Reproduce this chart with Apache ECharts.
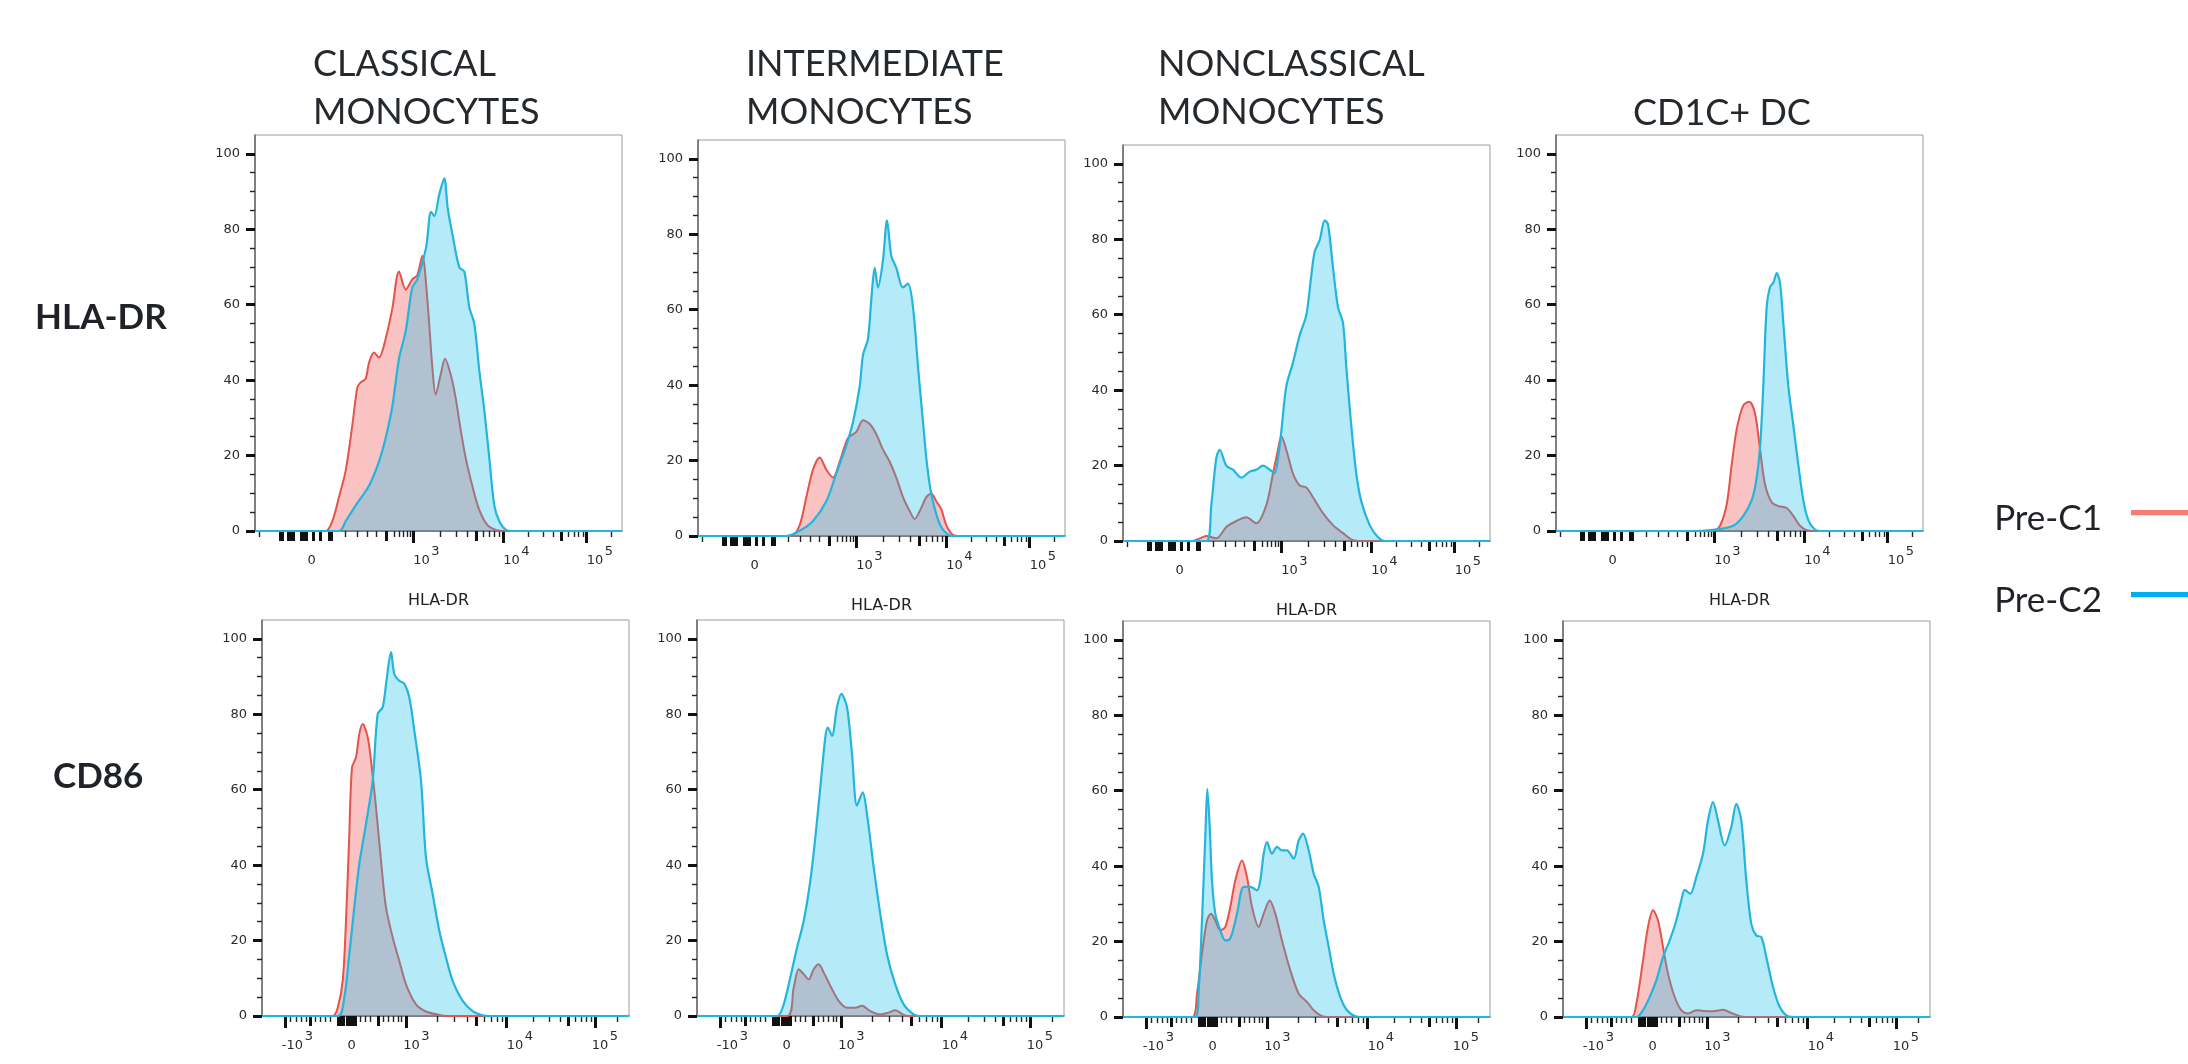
<!DOCTYPE html>
<html>
<head>
<meta charset="utf-8">
<script src="https://cdn.jsdelivr.net/npm/echarts@6/dist/echarts.min.js"></script>
<style>
  html, body { margin: 0; padding: 0; background: #ffffff; }
  #chart { width: 2188px; height: 1064px; }
</style>
</head>
<body>
<div id="chart"></div>
<script>
// ------------------------------------------------------------------
// DATA
// x values are on the logicle display scale of the cytometer axis
// (display channels 0 - 367); y values are % of mode.
// ------------------------------------------------------------------
const columnTitles = ['CLASSICAL\nMONOCYTES', 'INTERMEDIATE\nMONOCYTES', 'NONCLASSICAL\nMONOCYTES', 'CD1C+ DC'];
const rowMarkers = ['HLA-DR', 'CD86'];
const seriesNames = ['Pre-C1', 'Pre-C2'];

const yTickValues = [0, 20, 40, 60, 80, 100];
const yMinorTickValues = [5, 10, 15, 25, 30, 35, 45, 50, 55, 65, 70, 75, 85, 90, 95];

// HLA-DR axis (top row); label values mark where each label starts
const hlaLabelValues = [52.6, 158.3, 248.3, 331.7];
const hlaLabelText = ['0', '10³', '10⁴', '10⁵'];
const hlaDecadeTicks = [158.3, 248.3, 331.7];            // 10^3, 10^4, 10^5
const hlaZeroTicks = [25, 27.5, 33, 35.5, 38, 46, 48.5, 51, 58, 65, 74, 76.5];
const hlaLowThinTicks = [4.5, 90, 102, 112, 121, 139, 144, 148.5, 152.5, 155.5, 356.7];
const hlaLowThickTicks = [131];

// CD86 axis (bottom row)
const cd86LabelValues = [19.7, 85.6, 141.3, 244.7, 329.7];
const cd86LabelText = ['-10³', '0', '10³', '10⁴', '10⁵'];
const cd86DecadeTicks = [144.7, 244.7, 333];             // 10^3, 10^4, 10^5
const cd86NegMajorTick = [23.7];                         // -10^3
const cd86ZeroTicks = [76, 78.5, 81, 85, 88, 90.5, 93];
const cd86LowThinTicks = [28, 34.7, 39.7, 44.7, 53, 58, 63, 68, 98, 103, 108, 121.3, 126.3, 131.3, 136.3, 139.7, 355];
const cd86LowThickTicks = [48, 116.3];

// ---- histograms: HLA-DR ----
const hlaClassicalPreC1 = [[0,0],[70.7,0],[77.3,2.6],[84,9],[90.7,16],[97.3,28],[102.3,38],[105.7,39.4],[110.7,40.4],[114,44.6],[119,47.3],[124,46],[130.7,51],[137.3,59],[144,68.8],[150.7,64],[157.3,66.7],[162.3,67.8],[167.3,73],[172.3,61.5],[177.3,43.6],[180.7,36.2],[185.7,41.5],[190,45.7],[195.7,41.5],[200.7,35.2],[205.7,26.8],[210.7,19.4],[217.3,12],[224,5.8],[232.3,1.6],[240.7,0.3],[250,0],[367,0]];
const hlaClassicalPreC2 = [[0,0],[84,0],[90.7,2.6],[100.7,6.8],[114,12],[124,18.4],[130.7,24.7],[137.3,33],[144,45.7],[150.7,53],[157.3,64.6],[162.3,66.7],[171,75],[176,84.6],[179.3,83.5],[184.3,89.3],[189.3,93.5],[192.7,85.6],[197.7,78.3],[204.3,69.9],[209.3,68.8],[214.3,59.3],[219.3,55],[224.3,42.5],[229.3,32],[234.3,19.4],[239.3,6.8],[244.3,2.6],[251,0.3],[258,0],[367,0]];

const hlaIntermediatePreC1 = [[0,0],[93.3,0],[101.7,2.9],[108.3,10.3],[115,17.6],[121.7,20.8],[128.3,17.6],[135,15.5],[141.7,19.7],[150,26],[158.3,27.6],[165,30.7],[171.7,29.7],[178.3,27],[185,22.9],[191.7,19.7],[198.3,15.5],[205,10.3],[211.7,6.6],[216.7,4.5],[221.7,6.6],[228.3,10.3],[233.3,11.3],[238.3,9.2],[243.3,7.1],[248.3,2.9],[255,0.3],[262,0],[367,0]];
const hlaIntermediatePreC2 = [[0,0],[88.3,0],[101.7,1.4],[115,4],[128.3,9.2],[138.3,16.6],[148.3,24],[155,30.2],[161.7,39.7],[165,48],[170,52.3],[173.3,62.7],[176.7,71.1],[180,65.9],[185,73.2],[189,83.7],[193.3,74.3],[198.3,71.1],[205,65.9],[210,66.9],[215,60.7],[220,44.9],[225,30.2],[229,19],[233,11.5],[237,7],[242,3],[248,0.8],[255,0],[367,0]];

const hlaNonclassicalPreC1 = [[0,0],[70,0],[76.7,0.7],[83.3,1.3],[93.3,0.7],[103.3,3.7],[113.3,5.3],[123.3,6.3],[133.3,4.7],[143.3,9.5],[150,17.9],[155,24.2],[158.3,27.8],[163.3,24.2],[170,17.9],[176.7,14.7],[183.3,14.2],[190,11.6],[200,7.4],[210,4.2],[220,2.1],[230,0.2],[238,0],[367,0]];
const hlaNonclassicalPreC2 = [[0,0],[83.3,0],[88.3,9.5],[93.3,22],[96.7,24.2],[103.3,20],[110,18.9],[118.3,16.8],[126.7,18.4],[133.3,18.9],[140,20],[146.7,18.9],[151.7,18],[155,22],[158.3,29],[163.3,41],[170,47.3],[176.7,54.6],[183.3,59.9],[188.3,70.4],[191.7,76.7],[196.7,79.8],[201.7,85],[205,84],[210,72.5],[215,62],[220,57.8],[223.3,46.2],[228.3,30.5],[233.3,17.9],[238.3,10.5],[246.7,4.2],[255,1],[261.7,0],[367,0]];

const hlaCd1cDcPreC1 = [[0,0],[157.3,0],[164,1.4],[170.7,7.1],[175.7,17.6],[180.7,27],[187.3,33.3],[193.3,34.3],[199,31.2],[204,21.8],[209,12.4],[215.7,7.6],[222.3,6.6],[230.7,6.1],[237.3,4],[244,1.4],[250.7,0.2],[258,0],[367,0]];
const hlaCd1cDcPreC2 = [[0,0],[140.7,0],[157.3,0.3],[177.3,1.4],[187.3,4],[195.7,8.2],[200,13],[204,22],[207.3,38.5],[210.7,59.5],[214,64.7],[217.3,65.8],[220.7,68.4],[224,65.8],[227.3,55.3],[232.3,38.5],[237.3,28.1],[242.3,17.6],[247.3,8.2],[252.3,2.9],[259,0.4],[265,0],[367,0]];

// ---- histograms: CD86 ----
const cd86ClassicalPreC1 = [[0,0],[70.7,0],[75.7,2.2],[80.7,9.3],[84,25.2],[87.3,48.2],[90,65.9],[94,68.6],[97.3,74.8],[100.7,77.4],[105.7,73.9],[109,67.7],[114,55.3],[119,41.2],[124,28.8],[130.7,20.8],[137.3,14.6],[144,8.4],[154,3.1],[164,1.2],[177.3,0.3],[185,0],[367,0]];
const cd86ClassicalPreC2 = [[0,0],[75.7,0],[82.3,4.9],[87.3,16.4],[92.3,28.8],[97.3,40.3],[104,50.9],[110.7,62.4],[115.7,80.1],[120.7,81.9],[124.7,89.4],[129,96.5],[132.3,90.7],[137.3,88.9],[142.3,88.1],[147.3,84.5],[152.3,75.7],[159,62.4],[164,42],[170.7,32.3],[177.3,22.6],[184,15.5],[190.7,9.3],[200.7,4],[210.7,1.3],[220.7,0.2],[228,0],[367,0]];

const cd86IntermediatePreC1 = [[0,0],[90,0],[96.7,7.5],[101.7,12.4],[106.7,11.1],[111.7,9.7],[116.7,12.4],[121.7,13.7],[126.7,11.5],[133.3,8],[141.7,4],[150,2.2],[158.3,2.2],[165,2.7],[173.3,1.3],[183.3,0.4],[191.7,0.9],[198.3,1.5],[206.7,0.3],[212,0],[367,0]];
const cd86IntermediatePreC2 = [[0,0],[80,0],[86.7,3.1],[93.3,10.2],[100,18.1],[106.7,25.2],[113.3,35.8],[118.3,47.3],[123.3,60.6],[128.3,73.9],[130.7,76.5],[135,74.3],[140,81.9],[144.3,85.4],[150,81.9],[155,69.5],[160,55.8],[165.7,59.3],[170,53.5],[176.7,39.4],[183.3,27],[190,16.4],[198.3,8.4],[206.7,3.1],[216.7,0.4],[222,0],[367,0]];

const cd86NonclassicalPreC1 = [[0,0],[69,0],[74,6.2],[79,16.8],[84,25.6],[88,27.4],[92.3,25.6],[97.3,23],[102.3,23.9],[107.3,29.2],[112.3,36.2],[119,41.5],[124,37.1],[129,29.2],[135.7,23.9],[140.7,27.4],[146.7,30.9],[152.3,27.4],[159,20.3],[167.3,12.4],[175.7,6.2],[184,4],[190.7,1.8],[199,0.2],[205,0],[367,0]];
const cd86NonclassicalPreC2 = [[0,0],[72.3,0],[75.7,7.1],[79,25.6],[82.3,47.7],[84.3,60.5],[86.7,50.4],[89,36.2],[92.3,27.4],[97.3,23],[102.3,20.3],[107.3,20.8],[114,27.4],[120.7,34.5],[127.3,34.5],[134,33.6],[137.3,36.2],[140.7,43.3],[144,46.4],[149,43.3],[154,45.1],[159,44.2],[164,44.2],[170.7,42],[175.7,46.8],[180,48.6],[185.7,44.2],[190.7,38],[195.7,34.5],[200.7,25.6],[205.7,18.6],[210.7,11.5],[217.3,5.3],[224,1.8],[232.3,0.2],[240,0],[367,0]];

const cd86Cd1cDcPreC1 = [[0,0],[68.3,0],[73.3,3.5],[80,15],[85,23.9],[90,28.3],[95,25.6],[100,18.6],[105,11.5],[111.7,5.3],[118.3,1.8],[125,0.9],[133.3,1.8],[140,1.6],[150,1.5],[160,1.9],[168.3,1.1],[176.7,0.2],[183,0],[367,0]];
const cd86Cd1cDcPreC2 = [[0,0],[73.3,0],[80,1.8],[86.7,5.3],[93.3,9.7],[100,15.9],[106.7,20.3],[113.3,25.6],[118.3,30.9],[121.7,33.7],[127.3,32.7],[133.3,37.1],[140,43.3],[145,52.1],[150,57],[155,52.1],[161.7,45.5],[168.3,50.4],[173.3,56.5],[178.3,52.1],[183.3,36.2],[188.3,24.7],[193.3,21.6],[198.3,21.2],[203.3,15.9],[210,8],[216.7,2.7],[225,0.2],[232,0],[367,0]];

// ------------------------------------------------------------------
// AXIS TICK SETS
// ------------------------------------------------------------------
function decadeMinor(majors, thin, thick) {
  for (let k = 0; k < majors.length - 1; k++) {
    const a = majors[k], b = majors[k + 1];
    for (let m = 2; m <= 9; m++) {
      const p = a + Math.log10(m) * (b - a);
      (m === 5 ? thick : thin).push(+p.toFixed(2));
    }
  }
}
const hlaAxis = {
  major: hlaDecadeTicks.slice(),
  thin: hlaLowThinTicks.slice(),
  thick: hlaZeroTicks.concat(hlaLowThickTicks),
  labelValues: hlaLabelValues,
  labelText: hlaLabelText
};
decadeMinor(hlaDecadeTicks, hlaAxis.thin, hlaAxis.thick);

const cd86Axis = {
  major: cd86NegMajorTick.concat(cd86DecadeTicks),
  thin: cd86LowThinTicks.slice(),
  thick: cd86ZeroTicks.concat(cd86LowThickTicks),
  labelValues: cd86LabelValues,
  labelText: cd86LabelText
};
decadeMinor(cd86DecadeTicks, cd86Axis.thin, cd86Axis.thick);

// ------------------------------------------------------------------
// LAYOUT
// ------------------------------------------------------------------
const X_MIN = 0, X_MAX = 367, Y_MIN = 0, Y_MAX = 105;
const PW = 367, PH = 396;
const panels = [
  { row: 0, left: 255,  top: 135, c1: hlaClassicalPreC1,     c2: hlaClassicalPreC2 },
  { row: 0, left: 698,  top: 140, c1: hlaIntermediatePreC1,  c2: hlaIntermediatePreC2 },
  { row: 0, left: 1123, top: 145, c1: hlaNonclassicalPreC1,  c2: hlaNonclassicalPreC2 },
  { row: 0, left: 1556, top: 135, c1: hlaCd1cDcPreC1,        c2: hlaCd1cDcPreC2 },
  { row: 1, left: 262,  top: 620, c1: cd86ClassicalPreC1,    c2: cd86ClassicalPreC2 },
  { row: 1, left: 697,  top: 620, c1: cd86IntermediatePreC1, c2: cd86IntermediatePreC2 },
  { row: 1, left: 1123, top: 621, c1: cd86NonclassicalPreC1, c2: cd86NonclassicalPreC2 },
  { row: 1, left: 1563, top: 621, c1: cd86Cd1cDcPreC1,       c2: cd86Cd1cDcPreC2 }
];

const C1_LINE = '#E5534B', C1_AREA = 'rgba(237,85,85,0.50)', C1_KEY = '#F47C74';
const C2_LINE = '#22B5DD', C2_AREA = 'rgba(22,189,233,0.45)', C2_KEY = '#00AEEF';
const TICK_FONT = 'DejaVu Sans';
const SUP = { '³': '3', '⁴': '4', '⁵': '5' };

// '10³' -> two-line rich label: raised exponent on top, base underneath
function labelFormatter(vals, texts) {
  return function (v) {
    const k = vals.findIndex(u => Math.abs(u - v) < 1e-6);
    if (k < 0) return '';
    const t = texts[k];
    const last = t.charAt(t.length - 1);
    if (SUP[last]) {
      const baseTxt = t.slice(0, -1);
      return '{' + (baseTxt.charAt(0) === '-' ? 'sn' : 's') + '|' + SUP[last] + '}\n{b|' + baseTxt + '}';
    }
    return '{z| }\n{b|' + t + '}';
  };
}
const tickRich = {
  b:  { fontFamily: TICK_FONT, fontSize: 13, lineHeight: 14, color: '#2a2a2a' },
  s:  { fontFamily: TICK_FONT, fontSize: 13, lineHeight: 5, padding: [0, 0, 0, 18], color: '#2a2a2a' },
  sn: { fontFamily: TICK_FONT, fontSize: 13, lineHeight: 5, padding: [0, 0, 0, 23], color: '#2a2a2a' },
  z:  { fontFamily: TICK_FONT, fontSize: 13, lineHeight: 5, color: '#2a2a2a' }
};

const grid = [], xAxis = [], yAxis = [], series = [];
panels.forEach((p, i) => {
  grid.push({ left: p.left, top: p.top, width: PW, height: PH, show: true,
              borderColor: '#9c9c9c', borderWidth: 1, backgroundColor: 'transparent' });
  const ax = p.row === 0 ? hlaAxis : cd86Axis;
  const base = { type: 'value', gridIndex: i, min: X_MIN, max: X_MAX, position: 'bottom',
                 splitLine: { show: false } };
  xAxis.push(Object.assign({}, base, {
    axisLine: { show: true, onZero: false, lineStyle: { color: '#666', width: 1.5 } },
    axisTick: { show: true, customValues: ax.major, length: 12, lineStyle: { color: '#111', width: 3 } },
    axisLabel: { show: true, customValues: ax.labelValues, formatter: labelFormatter(ax.labelValues, ax.labelText),
                 align: 'left', margin: 18, rich: tickRich },
    name: p.row === 0 ? rowMarkers[0] : '', nameLocation: 'middle', nameGap: 62,
    nameTextStyle: { fontFamily: TICK_FONT, fontSize: 16, color: '#222' }
  }));
  xAxis.push(Object.assign({}, base, {
    axisLine: { show: false }, axisLabel: { show: false },
    axisTick: { show: true, customValues: ax.thin, length: 6, lineStyle: { color: '#222', width: 1.4 } }
  }));
  xAxis.push(Object.assign({}, base, {
    axisLine: { show: false }, axisLabel: { show: false },
    axisTick: { show: true, customValues: ax.thick, length: 10, lineStyle: { color: '#111', width: 3 } }
  }));
  yAxis.push({ type: 'value', gridIndex: i, min: Y_MIN, max: Y_MAX, position: 'left',
    axisLine: { show: true, onZero: false, lineStyle: { color: '#666', width: 1.5 } },
    axisTick: { show: true, customValues: yTickValues, length: 9, lineStyle: { color: '#111', width: 3 } },
    axisLabel: { show: true, customValues: yTickValues, margin: 15, fontFamily: TICK_FONT, fontSize: 13, color: '#2a2a2a' },
    splitLine: { show: false } });
  yAxis.push({ type: 'value', gridIndex: i, min: Y_MIN, max: Y_MAX, position: 'left',
    axisLine: { show: false }, axisLabel: { show: false },
    axisTick: { show: true, customValues: yMinorTickValues, length: 5, lineStyle: { color: '#222', width: 1.4 } },
    splitLine: { show: false } });

  series.push({ name: seriesNames[0], type: 'line', xAxisIndex: i * 3, yAxisIndex: i * 2,
    data: p.c1, smooth: 0.3, symbol: 'none', silent: true, z: 2,
    itemStyle: { color: C1_KEY }, lineStyle: { color: C1_LINE, width: 2 },
    areaStyle: { color: C1_AREA } });
  series.push({ name: seriesNames[1], type: 'line', xAxisIndex: i * 3, yAxisIndex: i * 2,
    data: p.c2, smooth: 0.3, symbol: 'none', silent: true, z: 3,
    itemStyle: { color: C2_KEY }, lineStyle: { color: C2_LINE, width: 2.2 },
    areaStyle: { color: C2_AREA } });
});

const titleStyle = { fontFamily: 'Lato', fontSize: 36, fontWeight: 'normal', lineHeight: 48, color: '#24292e' };
const rowStyle = { fontFamily: 'Lato', fontSize: 35, fontWeight: 'bold', lineHeight: 42, color: '#1f2328' };

// legend key: a thin bar sitting in the upper part of the key box
const KEY_ICON = 'path://M0,0H57V4H0Z M0,14L0.01,14L0,13.99Z';

const option = {
  backgroundColor: '#ffffff',
  animation: false,
  title: [
    { text: columnTitles[0], left: 313, top: 40, padding: 0, textStyle: titleStyle },
    { text: columnTitles[1], left: 746, top: 40, padding: 0, textStyle: titleStyle },
    { text: columnTitles[2], left: 1158, top: 40, padding: 0, textStyle: titleStyle },
    { text: columnTitles[3], left: 1633, top: 89, padding: 0, textStyle: titleStyle },
    { text: rowMarkers[0], left: 35, top: 297, padding: 0, textStyle: rowStyle },
    { text: rowMarkers[1], left: 53, top: 756, padding: 0, textStyle: rowStyle }
  ],
  legend: {
    orient: 'vertical', right: 0, top: 499, align: 'right', padding: 0,
    itemWidth: 57, itemHeight: 18, itemGap: 42, icon: KEY_ICON, symbolKeepAspect: false,
    selectedMode: false,
    itemStyle: { borderWidth: 0 },
    data: [
      { name: seriesNames[0], itemStyle: { color: C1_KEY, borderWidth: 0 } },
      { name: seriesNames[1], itemStyle: { color: C2_KEY, borderWidth: 0 } }
    ],
    textStyle: { fontFamily: 'Lato', fontSize: 35, lineHeight: 40, color: '#1f2328', padding: [0, 24, 0, 0] }
  },
  grid: grid,
  xAxis: xAxis,
  yAxis: yAxis,
  series: series
};

const chart = echarts.init(document.getElementById('chart'), null, { renderer: 'canvas' });
chart.setOption(option);
</script>
</body>
</html>
